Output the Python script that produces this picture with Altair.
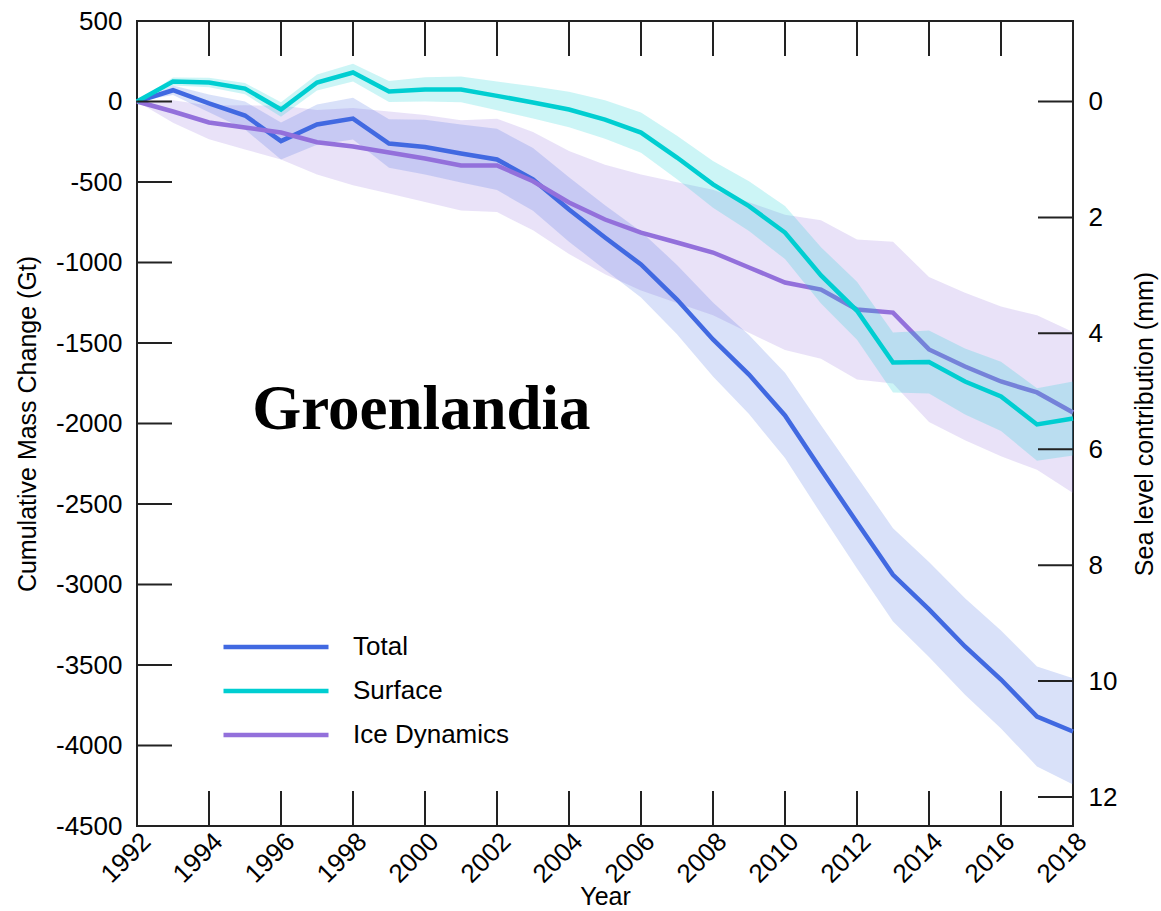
import altair as alt
import pandas as pd

# Cumulative ice-mass change of the Greenland ice sheet, 1992-2018 (Gt)
years = list(range(1992, 2019))

total = [0, 70, -12, -87, -246, -143, -106, -261, -283, -323, -360, -484, -671,
         -845, -1012, -1230, -1478, -1696, -1950, -2286, -2615, -2940, -3155,
         -3385, -3590, -3820, -3913]
total_unc = [0, 30, 55, 87, 115, 125, 130, 150, 170, 180, 190, 195, 200, 200,
             205, 215, 230, 245, 265, 275, 285, 290, 295, 300, 305, 310, 330]

surface = [0, 124, 118, 80, -50, 118, 180, 62, 75, 75, 35, -6, -50, -112, -193,
           -348, -515, -650, -814, -1080, -1300, -1621, -1618, -1739, -1832,
           -2006, -1969]
surface_unc = [0, 25, 30, 35, 45, 50, 55, 65, 75, 80, 90, 100, 110, 120, 125,
               135, 145, 155, 165, 175, 180, 186, 195, 205, 215, 225, 230]

ice = [0, -62, -130, -161, -193, -253, -280, -317, -354, -397, -397, -495, -627,
       -733, -814, -876, -938, -1031, -1124, -1168, -1292, -1311, -1540, -1646,
       -1739, -1807, -1932]
ice_unc = [0, 70, 105, 137, 168, 200, 240, 255, 270, 280, 290, 305, 320, 340,
           360, 375, 390, 405, 420, 430, 435, 440, 450, 458, 465, 480, 500]

series_names = ["Total", "Surface", "Ice Dynamics"]
series_colors = ["#4169e1", "#00ced1", "#9370db"]

year_labels = list(range(1992, 2019, 2))
inner_year_ticks = list(range(1994, 2017, 2))
gt_labels = list(range(500, -4501, -500))
gt_inner_ticks = list(range(0, -4001, -500))
mm_ticks = list(range(0, 13, 2))
GT_PER_MM = 360.0

rows = []
for name, vals, unc in zip(series_names, [total, surface, ice],
                           [total_unc, surface_unc, ice_unc]):
    for yr, v, u in zip(years, vals, unc):
        rows.append({"series": name, "year": yr, "value": v,
                     "lo": v - u, "hi": v + u})
df = pd.DataFrame(rows)
color_of = dict(zip(series_names, series_colors))

W, H = 936, 805
FONT = "Liberation Sans"
INK = "#222222"
TICK = 35
LABEL_SIZE = 26
TITLE_SIZE = 25

x_scale = alt.Scale(domain=[1992, 2018], nice=False, zero=False)
y_scale = alt.Scale(domain=[-4500, 500], nice=False, zero=False)
mm_scale = alt.Scale(domain=[-500 / GT_PER_MM, 4500 / GT_PER_MM], nice=False,
                     zero=False, reverse=True)
color_scale = alt.Scale(domain=series_names, range=series_colors)

x_axis = alt.Axis(values=year_labels, labelExpr="datum.value + ''",
                  labelAngle=-45, labelAlign="right", labelBaseline="top",
                  labelPadding=2, labelFontSize=LABEL_SIZE, labelFont=FONT,
                  labelColor="black", labelFlush=False, labelOverlap=False,
                  tickSize=0, domain=False, grid=False,
                  title="Year", titleFont=FONT, titleFontSize=TITLE_SIZE,
                  titleFontWeight="normal", titleColor="black",
                  titlePadding=-3)

y_axis = alt.Axis(values=gt_labels, labelExpr="datum.value + ''",
                  labelFontSize=LABEL_SIZE, labelFont=FONT,
                  labelColor="black", labelPadding=15, labelFlush=False,
                  labelOverlap=False, tickSize=0, domain=False, grid=False,
                  title="Cumulative Mass Change (Gt)", titleFont=FONT,
                  titleFontSize=TITLE_SIZE, titleFontWeight="normal",
                  titleColor="black", titlePadding=15)

mm_axis = alt.Axis(orient="right", values=mm_ticks,
                   labelExpr="datum.value + ''",
                   labelFontSize=LABEL_SIZE, labelFont=FONT,
                   labelColor="black", labelPadding=15, labelFlush=False,
                   labelOverlap=False, tickSize=0, domain=False, grid=False,
                   title="Sea level contribution (mm)", titleFont=FONT,
                   titleFontSize=TITLE_SIZE, titleFontWeight="normal",
                   titleColor="black", titleAngle=270, titlePadding=41)

legend = alt.Legend(orient="none", legendX=84, legendY=611, title=None,
                    symbolType="stroke", symbolSize=11025,
                    symbolStrokeWidth=4.5, clipHeight=30, rowPadding=14,
                    labelFontSize=LABEL_SIZE, labelFont=FONT,
                    labelColor="black", labelOffset=22, labelLimit=0,
                    padding=0)

X = alt.X("year:Q", scale=x_scale, axis=x_axis)


def band(name):
    return alt.Chart(df).transform_filter(alt.datum.series == name).mark_area(
        opacity=0.2, color=color_of[name]
    ).encode(
        x=X,
        y=alt.Y("lo:Q", scale=y_scale, axis=y_axis),
        y2="hi:Q",
    )


def line(name):
    return alt.Chart(df).transform_filter(alt.datum.series == name).mark_line(
        strokeWidth=4.5
    ).encode(
        x=X,
        y=alt.Y("value:Q", scale=y_scale, axis=y_axis),
        color=alt.Color("series:N", scale=color_scale, legend=legend),
    )


# inward-pointing tick marks on the four sides of the frame
left_ticks = alt.Chart(pd.DataFrame({"gt": gt_inner_ticks})).mark_rule(
    color=INK, strokeWidth=2
).encode(y=alt.Y("gt:Q", scale=y_scale, axis=y_axis),
         x=alt.value(0), x2=alt.value(TICK))

year_df = pd.DataFrame({"yr": inner_year_ticks})
top_ticks = alt.Chart(year_df).mark_rule(color=INK, strokeWidth=2).encode(
    x=alt.X("yr:Q", scale=x_scale, axis=x_axis),
    y=alt.value(0), y2=alt.value(TICK))
bottom_ticks = alt.Chart(year_df).mark_rule(color=INK, strokeWidth=2).encode(
    x=alt.X("yr:Q", scale=x_scale, axis=x_axis),
    y=alt.value(H - TICK), y2=alt.value(H))

label_df = pd.DataFrame({"year": [1999.9], "value": [-2037],
                         "text": ["Groenlandia"]})
region_label = alt.Chart(label_df).mark_text(
    font="Liberation Serif", fontSize=63, fontWeight="bold", color="black",
    align="center", baseline="alphabetic"
).encode(x=X,
         y=alt.Y("value:Q", scale=y_scale, axis=y_axis),
         text="text:N")

gt_layers = alt.layer(
    band("Ice Dynamics"),
    band("Total"),
    line("Total"),
    line("Ice Dynamics"),
    band("Surface"),
    line("Surface"),
    left_ticks,
    top_ticks,
    bottom_ticks,
    region_label,
)

mm_layer = alt.Chart(pd.DataFrame({"mm": mm_ticks})).mark_rule(
    color=INK, strokeWidth=2
).encode(y=alt.Y("mm:Q", scale=mm_scale, axis=mm_axis),
         x=alt.value(W - TICK), x2=alt.value(W))

chart = alt.layer(gt_layers, mm_layer).resolve_scale(
    y="independent"
).properties(
    width=W, height=H, background="white",
    padding={"left": 137, "top": 21, "right": 88, "bottom": 85},
    autosize=alt.AutoSizeParams(type="none"),
).configure_view(stroke=INK, strokeWidth=2)

chart.save("out.html", embed_options={"renderer": "svg", "actions": False})
